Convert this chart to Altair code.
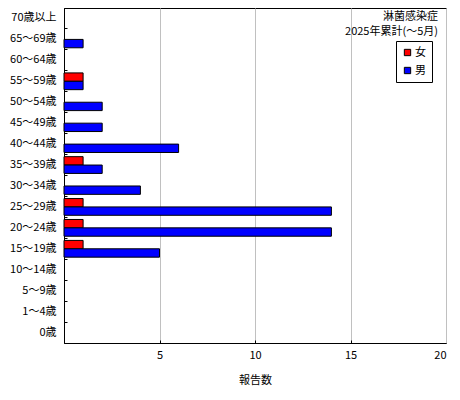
import altair as alt
import pandas as pd

ages = ["70歳以上", "65～69歳", "60～64歳", "55～59歳", "50～54歳", "45～49歳",
        "40～44歳", "35～39歳", "30～34歳", "25～29歳", "20～24歳", "15～19歳",
        "10～14歳", "5～9歳", "1～4歳", "0歳"]
female = [0, 0, 0, 1, 0, 0, 0, 1, 0, 1, 1, 1, 0, 0, 0, 0]
male = [0, 1, 0, 1, 2, 2, 6, 2, 4, 14, 14, 5, 0, 0, 0, 0]
sexes = ["女", "男"]
colors = ["#FF0000", "#0000FF"]
title_lines = ["淋菌感染症", "2025年累計(～5月)"]
x_ticks = [5, 10, 15, 20]

rows = []
for a, f, m in zip(ages, female, male):
    rows.append({"age": a, "sex": "女", "count": f})
    rows.append({"age": a, "sex": "男", "count": m})
df = pd.DataFrame(rows)

FONT = "Noto Sans CJK JP"
W, H = 382, 335

base = alt.Chart(df)

bars = base.transform_filter(alt.datum.count > 0).mark_bar(
    stroke="black", strokeWidth=1
).encode(
    x=alt.X("count:Q", scale=alt.Scale(domain=[0, 20], nice=False),
            axis=alt.Axis(values=x_ticks, grid=True, gridColor="#C0C0C0",
                          ticks=False, domainColor="black", labelPadding=6,
                          labelFontSize=11, labelColor="black",
                          title="報告数", titleFontSize=11, titleFontWeight="normal",
                          titlePadding=14, titleColor="black")),
    y=alt.Y("age:N", sort=ages,
            scale=alt.Scale(paddingInner=0, paddingOuter=0),
            axis=alt.Axis(ticks=False, domainColor="black", labelPadding=8,
                          labelFontSize=11, labelColor="black", title=None,
                          grid=False)),
    yOffset=alt.YOffset("sex:N", scale=alt.Scale(domain=sexes, paddingInner=0,
                                                  paddingOuter=0.25)),
    color=alt.Color("sex:N", scale=alt.Scale(domain=sexes, range=colors),
                    legend=alt.Legend(orient="none", legendX=332, legendY=33,
                                      title=None, strokeColor="black",
                                      fillColor="white", padding=6,
                                      symbolType="square", symbolSize=40,
                                      symbolStrokeColor="black",
                                      symbolStrokeWidth=1, labelFontSize=11,
                                      labelColor="black", rowPadding=6,
                                      labelOffset=2)),
)

ticks = base.mark_bar(opacity=0).encode(
    x=alt.X("count:Q", axis=alt.Axis(orient="top", offset=-H, labels=False,
                                     domain=False, grid=False, tickSize=3,
                                     tickColor="black", values=[5, 10, 15],
                                     title=None)),
    y=alt.Y("age:N", sort=ages,
            axis=alt.Axis(orient="right", offset=-W, labels=False, domain=False,
                          grid=False, tickSize=3, tickColor="black",
                          bandPosition=0, title=None)),
)

tdf = pd.DataFrame({"t": title_lines, "yy": [9, 24]})
titles = alt.Chart(tdf).mark_text(
    align="right", baseline="middle", fontSize=11, font=FONT, color="black"
).encode(
    x=alt.value(374),
    y=alt.Y("yy:Q", scale=None),
    text="t:N",
)

chart = alt.layer(ticks, bars, titles).resolve_axis(
    x="independent", y="independent"
).properties(
    width=W, height=H,
    autosize=alt.AutoSizeParams(type="none"),
    padding={"left": 56, "top": 0, "right": 6, "bottom": 50},
).configure(font=FONT).configure_view(
    stroke="black", strokeWidth=1
)

chart.save("out.html", embed_options={"renderer": "svg", "actions": False})
